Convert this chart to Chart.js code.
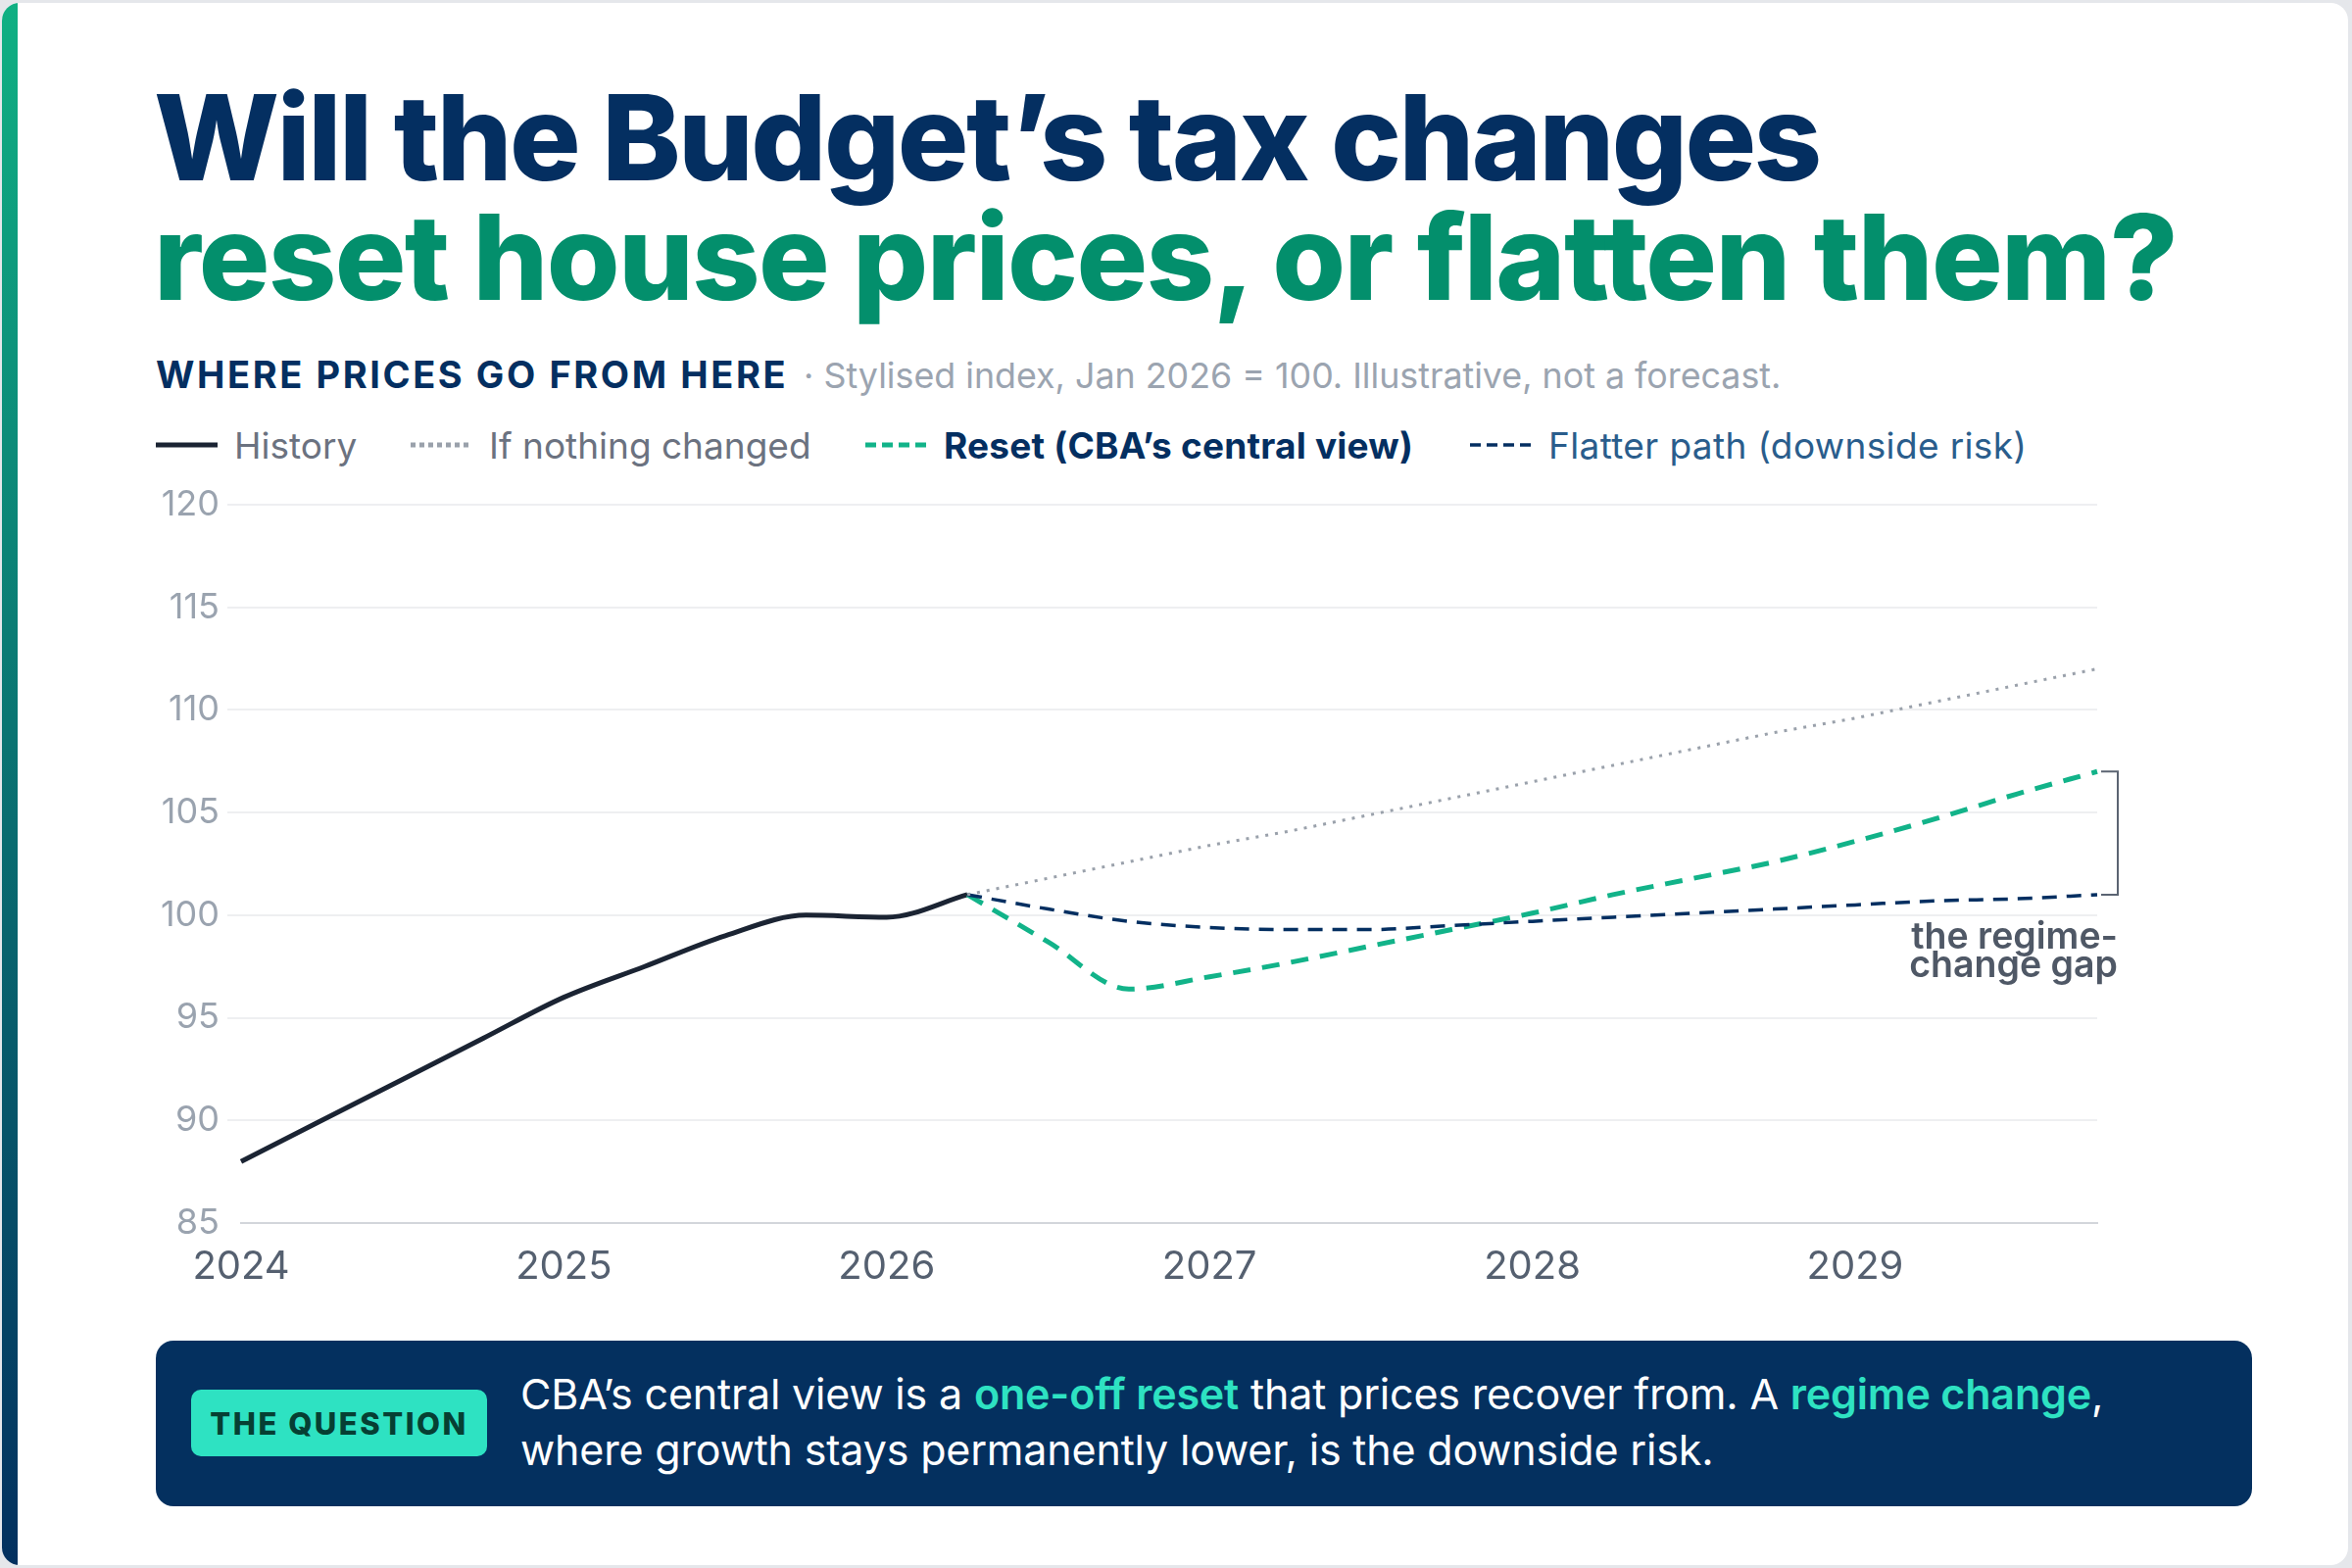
<!DOCTYPE html>
<html>
<head>
<meta charset="utf-8">
<title>Where prices go from here</title>
<script src="https://cdn.jsdelivr.net/npm/chart.js@4.4.1/dist/chart.umd.min.js"></script>
<style>
  html, body { margin: 0; padding: 0; }
  body {
    width: 2400px; height: 1600px; overflow: hidden; position: relative;
    background: #e5e7eb; font-family: Inter, "Noto Sans", sans-serif;
  }
  .card {
    position: absolute; left: 2px; top: 3px; width: 2394px; height: 1594px;
    background: #fff; border-radius: 18px; overflow: hidden;
  }
  .card::before {
    content: ""; position: absolute; left: 0; top: 0; bottom: 0; width: 16px;
    background: linear-gradient(#10b083, #03305f);
  }
  .title {
    position: absolute; left: 157px; top: 79px; margin: 0;
    font-size: 121px; line-height: 122px; font-weight: 800; letter-spacing: -0.021em;
    color: #042f61; white-space: nowrap;
  }
  .title .green { color: #038f6c; letter-spacing: -0.013em; }
  .sub {
    position: absolute; left: 159px; top: 363px; white-space: nowrap;
    font-size: 38px; line-height: 38px;
  }
  .sub b { color: #042f61; font-weight: 700; letter-spacing: 0.068em; }
  .sub span { color: #9ba4b0; font-size: 35.8px; margin-left: 16px; }
  .legend-item {
    position: absolute; top: 435px; height: 38px; display: flex; align-items: center;
    font-size: 37px; letter-spacing: 0; white-space: nowrap; color: #6b7280;
  }
  .legend-item svg { margin-right: 17px; }
  #wrap { position: absolute; left: 140px; top: 485px; width: 2060px; height: 833px; }
  .box {
    position: absolute; left: 159px; top: 1368px; width: 2139px; height: 169px;
    background: #04305f; border-radius: 18px;
  }
  .badge {
    position: absolute; left: 195px; top: 1418px; width: 302px; height: 68px;
    background: #2ee2c2; border-radius: 10px; color: #063f33;
    font-size: 31px; font-weight: 800; letter-spacing: 0.08em;
    display: flex; align-items: center; justify-content: center;
  }
  .note {
    position: absolute; left: 531px; top: 1394px; color: #fff;
    font-size: 43px; line-height: 57px; letter-spacing: -0.004em; white-space: nowrap;
  }
  .note em { font-style: normal; color: #2ee2c2; font-weight: 600; }
</style>
</head>
<body>
<div class="card"></div>

<h1 class="title">Will the Budget’s tax changes<br><span class="green">reset house prices, or flatten them?</span></h1>

<div class="sub"><b>WHERE PRICES GO FROM HERE</b><span>· Stylised index, Jan 2026 = 100. Illustrative, not a forecast.</span></div>

<div class="legend-item" style="left:159px">
  <svg width="63" height="10"><line x1="0" y1="5" x2="63" y2="5" stroke="#1b2433" stroke-width="5"/></svg>History
</div>
<div class="legend-item" style="left:419px">
  <svg width="63" height="10"><line x1="0" y1="5" x2="63" y2="5" stroke="#9aa1ab" stroke-width="5" stroke-dasharray="5 4"/></svg>If nothing changed
</div>
<div class="legend-item" style="left:883px; color:#042f61; font-weight:700; letter-spacing:0.006em">
  <svg width="63" height="10"><line x1="0" y1="5" x2="63" y2="5" stroke="#12b389" stroke-width="5" stroke-dasharray="11 6"/></svg>Reset (CBA’s central view)
</div>
<div class="legend-item" style="left:1500px; color:#2a5d8c; letter-spacing:0.01em">
  <svg width="63" height="10"><line x1="0" y1="5" x2="63" y2="5" stroke="#042f61" stroke-width="3.5" stroke-dasharray="11 6"/></svg>Flatter path (downside risk)
</div>

<div id="wrap"><canvas id="chart"></canvas></div>

<div class="box"></div>
<div class="badge">THE QUESTION</div>
<div class="note">CBA’s central view is a <em>one-off reset</em> that prices recover from. A <em>regime change</em>,<br>where growth stays permanently lower, is the downside risk.</div>

<script>
// Quarterly index, Jan 2026 = 100
const quarters = [
  "2024 Q1", "2024 Q2", "2024 Q3", "2024 Q4",
  "2025 Q1", "2025 Q2", "2025 Q3", "2025 Q4",
  "2026 Q1", "2026 Q2", "2026 Q3", "2026 Q4",
  "2027 Q1", "2027 Q2", "2027 Q3", "2027 Q4",
  "2028 Q1", "2028 Q2", "2028 Q3", "2028 Q4",
  "2029 Q1", "2029 Q2", "2029 Q3", "2029 Q4"
];
const history = [88, 90, 92, 94, 96, 97.5, 99, 100, 99.9, 101];
// projections start at 2026 Q2 (last history point)
const nothingChanged = [101, 101.8, 102.6, 103.4, 104.1, 104.9, 105.7, 106.5, 107.3, 108.1, 108.9, 109.6, 110.4, 111.2, 112];
const resetPath = [101, 98.7, 96.4, 97.0, 97.7, 98.5, 99.3, 100.1, 101.0, 101.8, 102.6, 103.6, 104.7, 105.9, 107.0];
const flatterPath = [101, 100.3, 99.7, 99.4, 99.3, 99.3, 99.5, 99.7, 99.9, 100.1, 100.3, 100.5, 100.7, 100.8, 101.0];
const yTicks = [85, 90, 95, 100, 105, 110, 115, 120];

const startIdx = history.length - 1;
const pad = vals => Array(startIdx).fill(null).concat(vals);

// bracket + label showing the gap between the two paths at the end
const gapBracket = {
  id: "gapBracket",
  afterDatasetsDraw(chart) {
    const { ctx, scales: { x, y } } = chart;
    const last = quarters.length - 1;
    const xr = x.getPixelForValue(last) + 21;
    const yTop = y.getPixelForValue(resetPath[resetPath.length - 1]);
    const yBot = y.getPixelForValue(flatterPath[flatterPath.length - 1]);
    ctx.save();
    ctx.strokeStyle = "#5b6472";
    ctx.lineWidth = 2;
    ctx.beginPath();
    ctx.moveTo(xr - 17, yTop);
    ctx.lineTo(xr, yTop);
    ctx.lineTo(xr, yBot);
    ctx.lineTo(xr - 17, yBot);
    ctx.stroke();
    ctx.fillStyle = "#4f5866";
    ctx.font = "600 37.5px Inter";
    ctx.textAlign = "right";
    ctx.textBaseline = "alphabetic";
    ctx.fillText("the regime-", xr, yBot + 55);
    ctx.fillText("change gap", xr, yBot + 84);
    ctx.restore();
  }
};

new Chart(document.getElementById("chart"), {
  type: "line",
  data: {
    labels: quarters,
    datasets: [
      {
        label: "If nothing changed",
        data: pad(nothingChanged),
        borderColor: "#9aa1ab",
        borderWidth: 3,
        borderDash: [3, 7],
        pointRadius: 0
      },
      {
        label: "Flatter path (downside risk)",
        data: pad(flatterPath),
        borderColor: "#042f61",
        borderWidth: 3.5,
        borderDash: [15, 10],
        pointRadius: 0,
        cubicInterpolationMode: "monotone"
      },
      {
        label: "Reset (CBA's central view)",
        data: pad(resetPath),
        borderColor: "#12b389",
        borderWidth: 5,
        borderDash: [18, 12],
        pointRadius: 0,
        cubicInterpolationMode: "monotone"
      },
      {
        label: "History",
        data: history,
        borderColor: "#1b2433",
        borderWidth: 5,
        pointRadius: 0,
        cubicInterpolationMode: "monotone"
      }
    ]
  },
  options: {
    responsive: true,
    maintainAspectRatio: false,
    animation: false,
    devicePixelRatio: 1,
    layout: { padding: { top: 30, right: 60, bottom: 0, left: 0 } },
    plugins: { legend: { display: false }, tooltip: { enabled: false } },
    scales: {
      x: {
        grid: { display: false, drawTicks: false },
        border: { display: true, color: "#d3d6db", width: 2 },
        ticks: {
          autoSkip: false,
          maxRotation: 0,
          padding: 21,
          color: "#556070",
          font: { family: "Inter", size: 40 },
          callback: (v, i) => quarters[i].endsWith("Q1") ? quarters[i].slice(0, 4) : ""
        },
        afterFit: s => { s.height = 70; }
      },
      y: {
        min: 85,
        max: 120,
        afterBuildTicks: s => { s.ticks = yTicks.map(v => ({ value: v })); },
        grid: {
          color: "#eeeff1",
          lineWidth: 2,
          tickLength: 14,
          tickColor: c => c.tick && c.tick.value === 85 ? "rgba(0,0,0,0)" : "#eeeff1"
        },
        border: { display: false },
        ticks: {
          padding: 8,
          color: "#9aa3af",
          font: { family: "Inter", size: 36 }
        },
        afterFit: s => { s.width = 106; }
      }
    }
  },
  plugins: [gapBracket]
});
</script>
</body>
</html>
